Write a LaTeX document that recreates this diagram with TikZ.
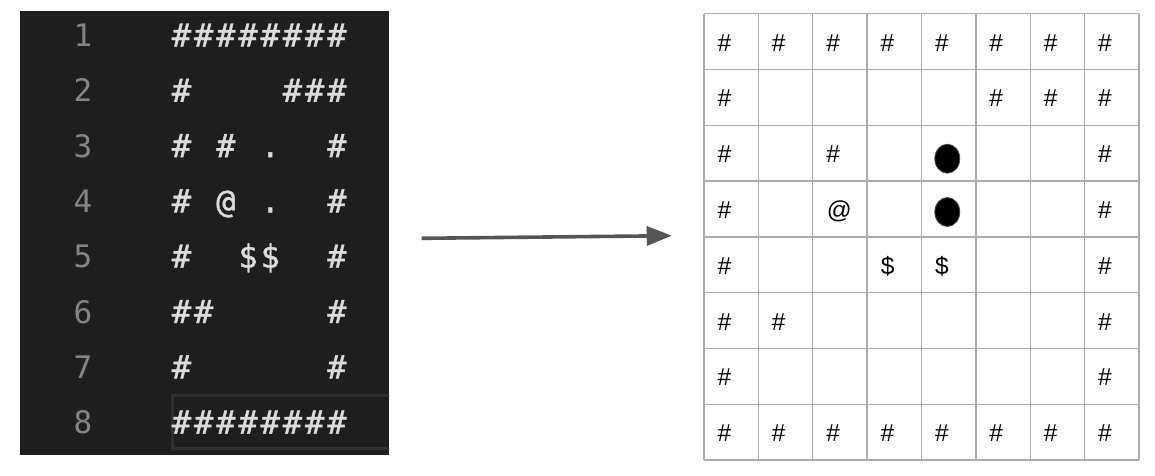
\documentclass[tikz,border=0pt]{standalone}
\usepackage{fontspec}
\setmainfont{Liberation Sans}
\newfontfamily\codefont[FakeBold=1.2]{DejaVu Sans Mono}
\newfontfamily\lnumfont{DejaVu Sans Mono}
\usetikzlibrary{shapes.geometric,arrows.meta}
\definecolor{editorbg}{HTML}{1E1E1E}
\definecolor{lnumcol}{HTML}{858585}
\definecolor{codecol}{HTML}{DCDCDC}
\definecolor{curlinecol}{HTML}{303030}
\definecolor{gridcol}{HTML}{ABABAB}
\definecolor{arrowcol}{HTML}{555555}
\newcommand\cc[1]{\makebox[22.2pt][c]{#1}}
\newcommand\gH{\cc{\#}}
\newcommand\gS{\cc{}}
\newcommand\gD{\cc{\$}}
\newcommand\gA{\cc{@}}
\newcommand\gP{\cc{.}}
\tikzset{
  lnum/.style={anchor=base, inner sep=0pt, text=lnumcol, font=\lnumfont\fontsize{31}{36}\selectfont},
  codeline/.style={anchor=base west, inner sep=0pt, text=codecol, font=\codefont\fontsize{32}{36}\selectfont},
  gtxt/.style={anchor=base west, inner sep=0pt, text=black, font=\fontsize{24.5}{29}\selectfont},
  goalmark/.style={ellipse, draw=black!70, line width=0.8pt, fill=black, minimum width=25pt, minimum height=29pt, inner sep=0pt},
  gridline/.style={draw=gridcol, line width=1.4pt},
  bigarrow/.style={draw=arrowcol, line width=3.6pt, -{Triangle[length=25pt,width=19pt]}}
}
\begin{document}
\begin{tikzpicture}[x=1pt,y=-1pt]
\useasboundingbox (0,0) rectangle (1155,475);
\fill[white] (0,0) rectangle (1155,475);
% editor panel
\node[fill=editorbg, minimum width=369.5pt, minimum height=444pt, anchor=north west, inner sep=0pt] (editor) at (19.5,11) {};
\begin{scope}
\clip (19.5,11) rectangle (389,455);
\draw[curlinecol, line width=3pt] (172,395.5) rectangle (395,448.5);
\end{scope}
\foreach \i in {1,...,8}
  \node[lnum] (ln\i) at (83,{46.5+55.3*(\i-1)}) {\i};
\node[codeline] (c1) at (170.2,46.5)  {\gH\gH\gH\gH\gH\gH\gH\gH};
\node[codeline] (c2) at (170.2,101.8) {\gH\gS\gS\gS\gS\gH\gH\gH};
\node[codeline] (c3) at (170.2,157.1) {\gH\gS\gH\gS\gP\gS\gS\gH};
\node[codeline] (c4) at (170.2,212.4) {\gH\gS\gA\gS\gP\gS\gS\gH};
\node[codeline] (c5) at (170.2,267.7) {\gH\gS\gS\gD\gD\gS\gS\gH};
\node[codeline] (c6) at (170.2,323.0) {\gH\gH\gS\gS\gS\gS\gS\gH};
\node[codeline] (c7) at (170.2,378.3) {\gH\gS\gS\gS\gS\gS\gS\gH};
\node[codeline] (c8) at (170.2,433.6) {\gH\gH\gH\gH\gH\gH\gH\gH};
% grid
\foreach \k in {0,...,8} {
  \draw[gridline] ({704+54.375*\k},13.7) -- ({704+54.375*\k},460);
  \draw[gridline] (704,{13.7+55.7875*\k}) -- (1139,{13.7+55.7875*\k});
}
\foreach \c/\r in {1/1,2/1,3/1,4/1,5/1,6/1,7/1,8/1,
                   1/2,6/2,7/2,8/2,
                   1/3,3/3,8/3,
                   1/4,8/4,
                   1/5,8/5,
                   1/6,2/6,8/6,
                   1/7,8/7,
                   1/8,2/8,3/8,4/8,5/8,6/8,7/8,8/8}
  \node[gtxt] (w\c-\r) at ({704+54.375*(\c-1)+13.3},{13.7+55.7875*(\r-1)+37.5}) {\#};
\node[gtxt] (player) at ({704+54.375*2+14},{13.7+55.7875*3+37.5}) {@};
\node[gtxt] (box1) at ({704+54.375*3+13.5},{13.7+55.7875*4+37.5}) {\$};
\node[gtxt] (box2) at ({704+54.375*4+13.5},{13.7+55.7875*4+37.5}) {\$};
\node[goalmark] (goal1) at (947.3,158.7) {};
\node[goalmark] (goal2) at (947.3,212) {};
% arrow
\coordinate (arrowstart) at (421.7,238.3);
\coordinate (arrowend) at (671.7,235.7);
\draw[bigarrow] (arrowstart) -- (arrowend);
\end{tikzpicture}
\end{document}
